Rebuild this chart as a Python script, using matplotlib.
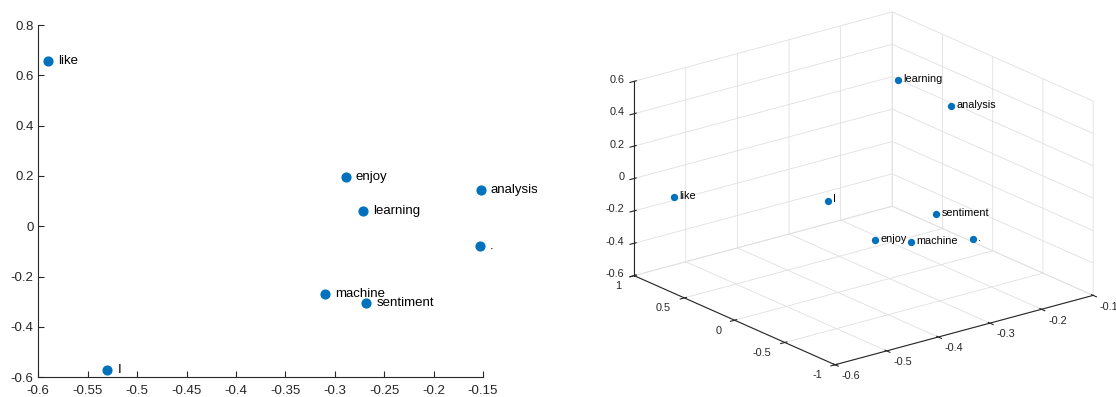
import numpy as np
import matplotlib
matplotlib.use("Agg")
import matplotlib.pyplot as plt
from matplotlib.ticker import FuncFormatter, NullFormatter
from matplotlib.transforms import Bbox

plt.rcParams["font.family"] = ["Liberation Sans", "DejaVu Sans"]
plt.rcParams["axes.unicode_minus"] = False

# word embedding coordinates
words = ["I", "like", "machine", "learning", "enjoy", "sentiment", "analysis", "."]
x_vals = [-0.530, -0.590, -0.310, -0.271, -0.289, -0.268, -0.152, -0.153]
y_vals = [-0.571, 0.657, -0.270, 0.060, 0.197, -0.303, 0.144, -0.079]
z_vals = [0.234, -0.029, -0.294, 0.584, -0.426, -0.147, 0.297, -0.461]

xticks_2d = [-0.6, -0.55, -0.5, -0.45, -0.4, -0.35, -0.3, -0.25, -0.2, -0.15]
yticks_2d = [-0.6, -0.4, -0.2, 0, 0.2, 0.4, 0.6, 0.8]
xticks_3d = [-0.6, -0.5, -0.4, -0.3, -0.2, -0.1]
yticks_3d = [-1, -0.5, 0, 0.5, 1]
zticks_3d = [-0.6, -0.4, -0.2, 0, 0.2, 0.4, 0.6]

BLUE = "#0072BD"
DARK = "#262626"
W, H = 1116, 397
fmt = FuncFormatter(lambda v, p: "%g" % round(v, 4))

fig = plt.figure(figsize=(W / 100, H / 100), dpi=100)

# 2D scatter
ax = fig.add_axes([38.3 / W, 19.7 / H, 444.7 / W, 352.3 / H])
ax.scatter(x_vals, y_vals, s=40, color=BLUE, zorder=3, clip_on=False)
clip = Bbox.from_extents(0, 0, 537, H)  # the left panel is cropped there
for w, xv, yv in zip(words, x_vals, y_vals):
    t = ax.text(xv + 0.01, yv, w, va="center", ha="left", fontsize=9.5,
                color="black")
    t.set_clip_box(clip)
    t.set_clip_on(True)
ax.set_xlim(-0.6, -0.15)
ax.set_ylim(-0.6, 0.8)
ax.set_xticks(xticks_2d)
ax.set_yticks(yticks_2d)
ax.xaxis.set_major_formatter(fmt)
ax.yaxis.set_major_formatter(fmt)
ax.spines["top"].set_visible(False)
ax.spines["right"].set_visible(False)
for s in ["left", "bottom"]:
    ax.spines[s].set_color(DARK)
    ax.spines[s].set_linewidth(0.8)
ax.tick_params(direction="in", length=4, width=0.8, colors=DARK, labelsize=9.5)
ax.tick_params(axis="x", pad=5.5)
ax.tick_params(axis="y", pad=3.5)

# 3D scatter (MATLAB-like view, orthographic)
ax3 = fig.add_axes([597 / W, -44 / H, 520 / W, 492 / H], projection="3d")
ax3.set_proj_type("ortho")
ax3.view_init(elev=20.2, azim=-127.9)
ax3.set_box_aspect((1, 1, 0.633))
ax3.scatter(x_vals, y_vals, z_vals, s=18, color=BLUE, depthshade=False)
for w, xv, yv, zv in zip(words, x_vals, y_vals, z_vals):
    ax3.text(xv + 0.01, yv, zv, w, va="center", ha="left", fontsize=7.8,
             color="black")
ax3.set_xlim(-0.6, -0.1)
ax3.set_ylim(-1, 1)
ax3.set_zlim(-0.6, 0.6)
ax3.set_xticks(xticks_3d)
ax3.set_yticks(yticks_3d)
ax3.set_zticks(zticks_3d)
for axis in (ax3.xaxis, ax3.yaxis, ax3.zaxis):
    axis.set_major_formatter(NullFormatter())
    axis.set_pane_color((1, 1, 1, 0))
    axis.pane.set_edgecolor("#dcdcdc")
    axis._axinfo["grid"]["color"] = "#e0e0e0"
    axis._axinfo["grid"]["linewidth"] = 0.6
    axis.line.set_color(DARK)
    axis.line.set_linewidth(0.8)
ax3.tick_params(colors=DARK)

# tick labels placed like MATLAB does (beside the box edges)
lab = dict(fontsize=7.8, color=DARK)
for v in xticks_3d:
    ax3.text(v, -1.159, -0.626, fmt(v), ha="center", va="center", **lab)
for v in yticks_3d:
    ax3.text(-0.6255, v, -0.642, fmt(v), ha="right", va="center", **lab)
for v in zticks_3d:
    ax3.text(-0.608, 1.058, v, fmt(v), ha="right", va="center", **lab)

fig.savefig("out.png", dpi=100)
